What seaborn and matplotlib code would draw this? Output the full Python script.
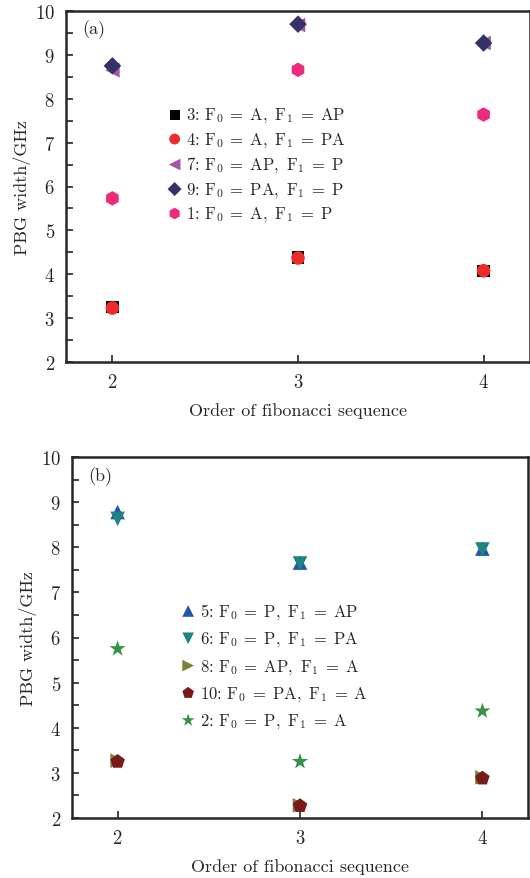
import matplotlib
matplotlib.use("Agg")
import matplotlib.pyplot as plt
import seaborn as sns
import pandas as pd
from matplotlib.ticker import MultipleLocator

sns.set_style("ticks")
plt.rcParams['font.family'] = ['cmr10', 'DejaVu Serif']
plt.rcParams['mathtext.fontset'] = 'cm'
plt.rcParams['axes.formatter.use_mathtext'] = True

orders = [2, 3, 4]


def lab(n, f0, f1):
    return (n + r": $\mathrm{F}_0\;=\;\mathrm{" + f0 + r"},\ \mathrm{F}_1\;=\;\mathrm{"
            + f1 + r"}$")


# Panel (a)
labels_a = [lab("3", "A", "AP"), lab("4", "A", "PA"), lab("7", "AP", "P"),
            lab("9", "PA", "P"), lab("1", "A", "P")]
s3 = [3.25, 4.38, 4.08]
s4 = [3.23, 4.37, 4.08]
s7 = [8.65, 9.68, 9.27]
s9 = [8.75, 9.70, 9.27]
s1 = [5.73, 8.66, 7.64]
vals_a = [s3, s4, s7, s9, s1]
markers_a = ["s", "o", "<", "D", "h"]
colors_a = ["#000000", "#ee2b2b", "#a655a8", "#333368", "#ee2a7f"]
sizes_a = [80, 95, 110, 80, 110]

# Panel (b)
labels_b = [lab("5", "P", "AP"), lab("6", "P", "PA"), lab("8", "AP", "A"),
            lab("10", "PA", "A"), lab("2", "P", "A")]
s5 = [8.78, 7.66, 7.97]
s6 = [8.63, 7.64, 7.95]
s8 = [3.27, 2.28, 2.90]
s10 = [3.25, 2.27, 2.88]
s2 = [5.75, 3.25, 4.37]
vals_b = [s5, s6, s8, s10, s2]
markers_b = ["^", "v", ">", "p", "*"]
colors_b = ["#2255a8", "#218282", "#7f7f35", "#7a1b1b", "#339447"]
sizes_b = [110, 110, 110, 120, 150]

fig = plt.figure(figsize=(5.30, 8.79), dpi=100)
ax_a = fig.add_axes([66/530, 1-363/879, 464/530, (363-12)/879])
ax_b = fig.add_axes([72/530, 1-819/879, 456/530, (819-458)/879])


def draw(ax, vals, labels, markers, colors, sizes, tag, legend_anchor, spacing):
    for v, lb, m, c, s in zip(vals, labels, markers, colors, sizes):
        df = pd.DataFrame({"order": orders, "width": v})
        sns.scatterplot(data=df, x="order", y="width", marker=m, color=c, s=s,
                        edgecolor="none", label=lb, ax=ax, zorder=3)
    ax.set_xlim(1.75, 4.25)
    ax.set_ylim(2, 10)
    ax.set_xticks(orders)
    ax.yaxis.set_major_locator(MultipleLocator(1))
    ax.yaxis.set_minor_locator(MultipleLocator(0.5))
    ax.tick_params(axis="both", which="both", direction="in", width=1.2,
                   labelsize=13.5, top=False, right=False)
    ax.tick_params(which="major", length=5)
    ax.tick_params(which="minor", length=5)
    ax.tick_params(axis="x", pad=8)
    ax.tick_params(axis="y", pad=8)
    for sp in ax.spines.values():
        sp.set_linewidth(1.8)
        sp.set_visible(True)
    ax.set_xlabel("Order of fibonacci sequence", fontsize=13, labelpad=8)
    ax.set_ylabel("PBG width/GHz", fontsize=13, labelpad=3)
    ax.text(0.035, 0.975, tag, transform=ax.transAxes, fontsize=13,
            va="top", ha="left")
    ax.legend(loc="upper left", bbox_to_anchor=legend_anchor, frameon=False,
              fontsize=12, handletextpad=0.15, labelspacing=spacing,
              borderaxespad=0, handlelength=1.1, markerscale=0.8)


draw(ax_a, vals_a, labels_a, markers_a, colors_a, sizes_a, "(a)",
     (0.2, 0.75), 0.33)
draw(ax_b, vals_b, labels_b, markers_b, colors_b, sizes_b, "(b)",
     (0.22, 0.62), 0.5)

fig.savefig("out.png", dpi=100)
